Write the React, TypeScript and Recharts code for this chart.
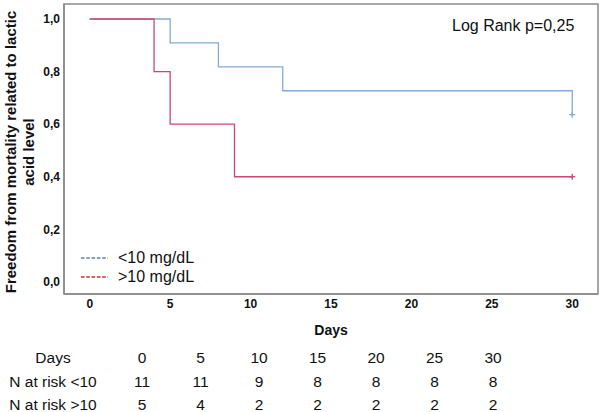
import React from "react";
import { LineChart, Line, XAxis, YAxis, Legend, ReferenceArea } from "recharts";

// Kaplan-Meier steps
const lowDays = [0, 5, 8, 12, 30];
const lowSurv = [1.0, 0.909, 0.818, 0.727, 0.636];
const highDays = [0, 4, 5, 9, 30];
const highSurv = [1.0, 0.8, 0.6, 0.4, 0.4];

const seriesNames = ["<10 mg/dL", ">10 mg/dL"];
const lineColors = ["#80acd9", "#d0456e"];
const legendColors = ["#5a7fc0", "#d02a2a"];

const xTicks = [0, 5, 10, 15, 20, 25, 30];
const yTicks = [0, 0.2, 0.4, 0.6, 0.8, 1.0];

// number at risk table
const riskDays = ["0", "5", "10", "15", "20", "25", "30"];
const riskLow = [11, 11, 9, 8, 8, 8, 8];
const riskHigh = [5, 4, 2, 2, 2, 2, 2];

const X_MIN = -1.6;
const X_MAX = 31.6;
const Y_MIN = -0.046;
const Y_MAX = 1.057;

const FONT = "'Liberation Sans', Arial, Helvetica, sans-serif";

const lowData = lowDays.map((d, i) => ({ day: d, surv: lowSurv[i] }));
const highData = highDays.map((d, i) => ({ day: d, surv: highSurv[i] }));

// censor "+" on the last point only
function CensorDot(props: any) {
  const { cx, cy, index, stroke, points } = props;
  if (cx == null || cy == null) return null;
  const last = points ? points.length - 1 : 4;
  if (index !== last) return <g key={`d-${index}`} />;
  return (
    <g key={`d-${index}`}>
      <line x1={cx - 3} y1={cy} x2={cx + 3} y2={cy} stroke={stroke} strokeWidth={1.3} />
      <line x1={cx} y1={cy - 3} x2={cx} y2={cy + 3} stroke={stroke} strokeWidth={1.3} />
    </g>
  );
}

function YLabel(props: any) {
  const vb = props.viewBox || { y: 4, height: 290 };
  const cy = vb.y + vb.height / 2 + 3;
  return (
    <g>
      <text
        x={10}
        y={cy}
        transform={`rotate(-90, 10, ${cy})`}
        textAnchor="middle"
        dominantBaseline="central"
        fontFamily={FONT}
        fontWeight="bold"
        fontSize={15}
        fill="#111"
      >
        Freedom from mortality related to lactic
      </text>
      <text
        x={28}
        y={cy}
        transform={`rotate(-90, 28, ${cy})`}
        textAnchor="middle"
        dominantBaseline="central"
        fontFamily={FONT}
        fontWeight="bold"
        fontSize={15}
        fill="#111"
      >
        acid level
      </text>
    </g>
  );
}

function XLabel(props: any) {
  const vb = props.viewBox || { x: 64, y: 294, width: 534 };
  return (
    <text
      x={vb.x + vb.width / 2}
      y={vb.y + 41}
      textAnchor="middle"
      fontFamily={FONT}
      fontWeight="bold"
      fontSize={14}
      fill="#111"
    >
      Days
    </text>
  );
}

function KmLegend(props: any) {
  const payload = props.payload || [];
  return (
    <div style={{ fontFamily: FONT, fontSize: 16, color: "#111" }}>
      {payload.map((p: any, i: number) => (
        <div key={i} style={{ display: "flex", alignItems: "center", height: 19.5 }}>
          <svg width={38} height={10}>
            <line x1={1} y1={5} x2={28} y2={5} stroke={legendColors[i]} strokeWidth={1.3} strokeDasharray="3.5 1.8" />
          </svg>
          <span style={{ lineHeight: "16px" }}>{p.value}</span>
        </div>
      ))}
    </div>
  );
}

const fmt = (v: number) => v.toFixed(1).replace(".", ",");

function RiskRow({ label, values, top }: { label: string; values: (string | number)[]; top: number }) {
  return (
    <div
      style={{
        position: "absolute",
        left: 0,
        top,
        display: "flex",
        fontFamily: FONT,
        fontSize: 15.5,
        lineHeight: "12px",
        height: 12,
        color: "#111",
        whiteSpace: "nowrap",
      }}
    >
      <div style={{ width: 106, textAlign: "center" }}>{label}</div>
      <div style={{ width: 6.75 }} />
      {values.map((v, i) => (
        <div key={i} style={{ width: 58.5, textAlign: "center" }}>
          {v}
        </div>
      ))}
    </div>
  );
}

export default function App() {
  return (
    <div style={{ position: "absolute", left: 0, top: 0, width: 600, height: 412, background: "#fff", overflow: "hidden" }}>
      <LineChart width={600} height={345} margin={{ top: 4, right: 2, left: 0, bottom: 21 }}>
        <XAxis
          type="number"
          dataKey="day"
          domain={[X_MIN, X_MAX]}
          ticks={xTicks}
          allowDataOverflow
          tickLine={false}
          tickSize={0}
          tickMargin={5}
          height={30}
          axisLine={{ stroke: "#8a8a8a", strokeWidth: 1.5 }}
          tick={{ fontFamily: FONT, fontWeight: "bold", fontSize: 12, fill: "#111" }}
          label={<XLabel />}
        />
        <YAxis
          type="number"
          domain={[Y_MIN, Y_MAX]}
          ticks={yTicks}
          allowDataOverflow
          tickFormatter={fmt}
          tickLine={false}
          tickSize={0}
          tickMargin={4}
          width={64}
          axisLine={{ stroke: "#8a8a8a", strokeWidth: 1.5 }}
          tick={{ fontFamily: FONT, fontWeight: "bold", fontSize: 12, fill: "#111" }}
          label={<YLabel />}
        />
        <ReferenceArea
          x1={X_MIN}
          x2={X_MAX}
          y1={Y_MIN}
          y2={Y_MAX}
          fill="none"
          stroke="#8a8a8a"
          strokeWidth={1.5}
          ifOverflow="visible"
        />
        <Legend
          layout="vertical"
          align="center"
          verticalAlign="middle"
          content={<KmLegend />}
          wrapperStyle={{ left: 80, top: 248, width: 160, height: 40 }}
        />
        <Line
          data={lowData}
          dataKey="surv"
          name={seriesNames[0]}
          type="stepAfter"
          stroke={lineColors[0]}
          strokeWidth={1.3}
          dot={<CensorDot />}
          activeDot={false}
          isAnimationActive={false}
        />
        <Line
          data={highData}
          dataKey="surv"
          name={seriesNames[1]}
          type="stepAfter"
          stroke={lineColors[1]}
          strokeWidth={1.3}
          dot={<CensorDot />}
          activeDot={false}
          isAnimationActive={false}
        />
      </LineChart>
      <div
        style={{
          position: "absolute",
          left: 452,
          top: 18,
          fontFamily: FONT,
          fontSize: 16,
          lineHeight: "16px",
          color: "#111",
          whiteSpace: "nowrap",
        }}
      >
        Log Rank p=0,25
      </div>
      <RiskRow label="Days" values={riskDays} top={352} />
      <RiskRow label="N at risk <10" values={riskLow} top={375.8} />
      <RiskRow label="N at risk >10" values={riskHigh} top={398.8} />
    </div>
  );
}
